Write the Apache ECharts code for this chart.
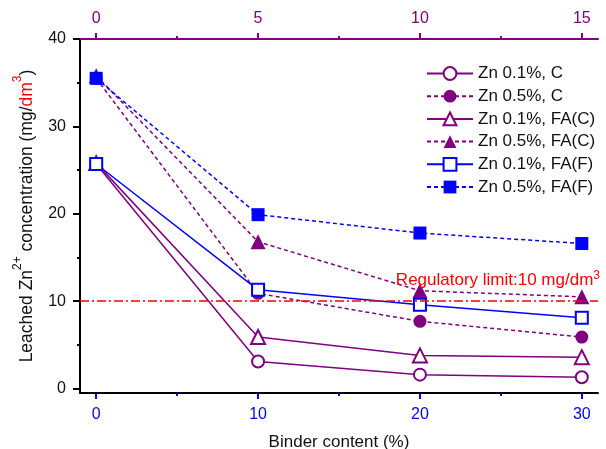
<!DOCTYPE html>
<html>
<head>
<meta charset="utf-8">
<script src="https://cdn.jsdelivr.net/npm/echarts@6/dist/echarts.min.js"></script>
<style>
  html, body { margin: 0; padding: 0; background: #fff; }
  #chart { width: 606px; height: 449px; }
</style>
</head>
<body>
<div id="chart"></div>
<script>
// Binder content (%) on the bottom axis; same positions read as 0–15 on the top axis
const binderContent = [0, 10, 20, 30];
const bottomTicks = [0, 10, 20, 30];
const bottomMinorTicks = [5, 15, 25];
const topTicks = [0, 5, 10, 15];
const topMinorTicks = [2.5, 7.5, 12.5];
const yTicks = [0, 10, 20, 30, 40];
const yMinorTicks = [5, 15, 25, 35];

// Leached Zn2+ concentration (mg/dm3)
const zn01C    = [25.7, 3.1, 1.6, 1.3];
const zn05C    = [35.5, 10.9, 7.7, 5.9];
const zn01FAC  = [25.8, 5.9, 3.8, 3.6];
const zn05FAC  = [35.8, 16.8, 11.2, 10.5];
const zn01FAF  = [25.7, 11.3, 9.6, 8.1];
const zn05FAF  = [35.5, 19.9, 17.8, 16.6];

const regulatoryLimit = 10;

const PURPLE = '#800080';
const BLUE = '#0000ff';
const RED = '#ff0000';
const FONT = '"Liberation Sans", Arial, sans-serif';

function pairs(values) {
  return binderContent.map((x, i) => [x, values[i]]);
}

function makeSeries(name, values, color, dashed, symbol, filled, size) {
  return {
    name: name,
    type: 'line',
    data: pairs(values),
    xAxisIndex: 0,
    yAxisIndex: 0,
    symbol: symbol,
    symbolSize: size,
    showAllSymbol: true,
    lineStyle: { color: color, width: 1.5, type: dashed ? [4, 3] : 'solid' },
    itemStyle: {
      color: filled ? color : '#ffffff',
      borderColor: color,
      borderWidth: filled ? 0 : 2
    },
    emphasis: { disabled: true },
    z: 3
  };
}

const series = [
  makeSeries('Zn 0.1%, C', zn01C, PURPLE, false, 'circle', false, 12),
  makeSeries('Zn 0.5%, C', zn05C, PURPLE, true, 'circle', true, 13),
  makeSeries('Zn 0.1%, FA(C)', zn01FAC, PURPLE, false, 'triangle', false, 14),
  makeSeries('Zn 0.5%, FA(C)', zn05FAC, PURPLE, true, 'triangle', true, 15),
  makeSeries('Zn 0.1%, FA(F)', zn01FAF, BLUE, false, 'rect', false, 12),
  makeSeries('Zn 0.5%, FA(F)', zn05FAF, BLUE, true, 'rect', true, 13)
];

// Regulatory limit drawn as a dash-dot reference line
series[0].markLine = {
  silent: true,
  symbol: 'none',
  data: [{ yAxis: regulatoryLimit }],
  lineStyle: { color: RED, width: 1.5, type: [9, 3, 2, 3] },
  label: {
    position: 'insideEndTop',
    distance: [-2, 10],
    formatter: 'Regulatory limit:' + regulatoryLimit + ' mg/dm{s|3}',
    color: RED,
    fontFamily: FONT,
    fontSize: 17,
    lineHeight: 22,
    rich: {
      s: { fontSize: 12, color: RED, fontFamily: FONT, verticalAlign: 'top', lineHeight: 22, padding: [0, 0, 10, 0] }
    }
  }
};

const chart = echarts.init(document.getElementById('chart'), null, { renderer: 'canvas' });

chart.setOption({
  animation: false,
  backgroundColor: '#ffffff',
  textStyle: { fontFamily: FONT },
  grid: { left: 80, right: 8, top: 39, bottom: 56, containLabel: false, outerBoundsMode: 'none' },
  legend: {
    orient: 'vertical',
    left: 421,
    top: 60,
    itemWidth: 46,
    itemHeight: 16,
    itemGap: 5.7,
    textStyle: { fontSize: 17, color: '#111', fontFamily: FONT },
    data: series.map(s => s.name)
  },
  xAxis: [
    {
      type: 'value', position: 'bottom', min: -1, max: 31,
      axisLine: { show: true, onZero: false, lineStyle: { color: '#000', width: 2 } },
      axisTick: { show: true, inside: false, length: 6, customValues: bottomTicks, lineStyle: { color: BLUE, width: 2 } },
      axisLabel: { customValues: bottomTicks, color: BLUE, fontSize: 16, margin: 14, fontFamily: FONT },
      splitLine: { show: false },
      name: 'Binder content (%)', nameLocation: 'middle', nameGap: 41, nameMoveOverlap: false,
      nameTextStyle: { color: '#111', fontSize: 17, fontFamily: FONT }
    },
    {
      type: 'value', position: 'top', min: -0.5, max: 15.5,
      axisLine: { show: true, onZero: false, lineStyle: { color: PURPLE, width: 2 } },
      axisTick: { show: true, inside: false, length: 6, customValues: topTicks, lineStyle: { color: PURPLE, width: 2 } },
      axisLabel: { customValues: topTicks, color: PURPLE, fontSize: 16, margin: 12, fontFamily: FONT },
      splitLine: { show: false }
    },
    {
      type: 'value', position: 'bottom', min: -1, max: 31,
      axisLine: { show: false, onZero: false },
      axisTick: { show: true, inside: false, length: 3, customValues: bottomMinorTicks, lineStyle: { color: BLUE, width: 2 } },
      axisLabel: { show: false },
      splitLine: { show: false }
    },
    {
      type: 'value', position: 'top', min: -0.5, max: 15.5,
      axisLine: { show: false, onZero: false },
      axisTick: { show: true, inside: false, length: 3, customValues: topMinorTicks, lineStyle: { color: PURPLE, width: 2 } },
      axisLabel: { show: false },
      splitLine: { show: false }
    }
  ],
  yAxis: [
    {
      type: 'value', position: 'left', min: -0.5, max: 40,
      axisLine: { show: true, onZero: false, lineStyle: { color: '#000', width: 2 } },
      axisTick: { show: true, inside: false, length: 7, customValues: yTicks, lineStyle: { color: '#000', width: 2 } },
      axisLabel: { customValues: yTicks, color: '#111', fontSize: 16, margin: 14, fontFamily: FONT },
      splitLine: { show: false },
      name: '{a|Leached Zn}{s|2+}{a| concentration (mg/}{r|dm}{rs|3}{a|)}',
      nameLocation: 'middle', nameRotate: 90, nameGap: 44,
      nameTextStyle: {
        fontFamily: FONT,
        rich: {
          a: { fontSize: 17.5, color: '#111', fontFamily: FONT, lineHeight: 24, verticalAlign: 'bottom' },
          s: { fontSize: 12, color: '#111', fontFamily: FONT, lineHeight: 24, verticalAlign: 'top' },
          r: { fontSize: 17.5, color: RED, fontFamily: FONT, lineHeight: 24, verticalAlign: 'bottom' },
          rs: { fontSize: 12, color: RED, fontFamily: FONT, lineHeight: 24, verticalAlign: 'top' }
        }
      }
    },
    {
      type: 'value', position: 'left', min: -0.5, max: 40,
      axisLine: { show: false, onZero: false },
      axisTick: { show: true, inside: false, length: 3, customValues: yMinorTicks, lineStyle: { color: '#000', width: 2 } },
      axisLabel: { show: false },
      splitLine: { show: false }
    }
  ],
  series: series
});
</script>
</body>
</html>
